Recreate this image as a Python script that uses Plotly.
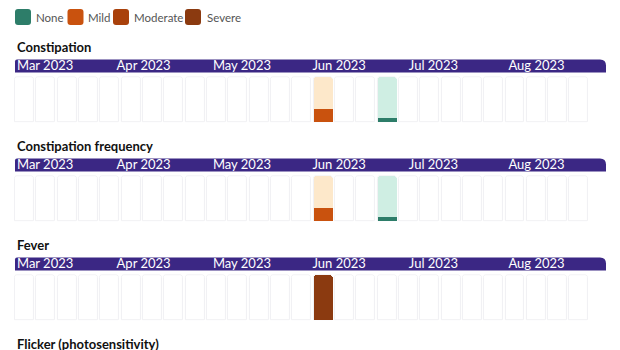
import plotly.graph_objects as go
import pandas as pd

W, H = 620, 350

# ---------------- data ----------------
severity_names = ["None", "Mild", "Moderate", "Severe"]
severity_colors = ["#2d7d69", "#c9520e", "#a9410b", "#8b3a10"]
severity_tints = ["#cfeee3", "#fde8ca", "#f7d6c2", "#f2cfbf"]
severity_heights = [0.09, 0.28, 0.62, 1.0]

week_start = "2023-02-27"
n_weeks = 27

month_ticks = ["2023-03-01", "2023-04-01", "2023-05-01", "2023-06-01", "2023-07-01", "2023-08-01"]
month_labels = ["Mar 2023", "Apr 2023", "May 2023", "Jun 2023", "Jul 2023", "Aug 2023"]
header_range = ["2023-03-01", "2023-09-01"]

symptoms = ["Constipation", "Constipation frequency", "Fever", "Flicker (photosensitivity)"]

constipation_weeks = ["2023-06-05", "2023-06-26"]
constipation_levels = ["Mild", "None"]

constipation_freq_weeks = ["2023-06-05", "2023-06-26"]
constipation_freq_levels = ["Mild", "None"]

fever_weeks = ["2023-06-05"]
fever_levels = ["Severe"]

flicker_weeks = []
flicker_levels = []

panels = [
    (symptoms[0], constipation_weeks, constipation_levels),
    (symptoms[1], constipation_freq_weeks, constipation_freq_levels),
    (symptoms[2], fever_weeks, fever_levels),
    (symptoms[3], flicker_weeks, flicker_levels),
]

# ---------------- style ----------------
FONT = "Lato"
HEADER_COLOR = "#3b2784"
CELL_LINE = "#f0f0f3"
PANEL_STEP = 99


def py(y):
    return 1 - y / H


def pxp(x):
    return x / W


def rounded_path(x0, y0, x1, y1, r_tl, r_tr, r_br, r_bl):
    """pixel rect (y down) -> paper path with rounded corners"""
    def P(x, y):
        return f"{pxp(x)},{py(y)}"
    return (f"M {P(x0, y0 + r_tl)} Q {P(x0, y0)} {P(x0 + r_tl, y0)} "
            f"L {P(x1 - r_tr, y0)} Q {P(x1, y0)} {P(x1, y0 + r_tr)} "
            f"L {P(x1, y1 - r_br)} Q {P(x1, y1)} {P(x1 - r_br, y1)} "
            f"L {P(x0 + r_bl, y1)} Q {P(x0, y1)} {P(x0, y1 - r_bl)} Z")


fig = go.Figure()
weeks = pd.date_range(week_start, periods=n_weeks, freq="7D")
mids = weeks + pd.Timedelta(hours=84)
slot_ms = 7 * 24 * 3600 * 1000
bar_w = slot_ms * 0.89
cell_range = [weeks[0], weeks[0] + pd.Timedelta(days=7 * n_weeks)]

layout_axes = {}
shapes = []
annotations = []

for k, (name, wks, lvls) in enumerate(panels):
    off = PANEL_STEP * k
    # title
    annotations.append(dict(
        x=pxp(15), y=py(46.5 + off), xref="paper", yref="paper",
        xanchor="left", yanchor="middle", showarrow=False,
        text=f"<b>{name}</b>", font=dict(family=FONT, size=13, color="#111111")))
    if k >= 3:
        continue
    ci, hi = 2 * k + 1, 2 * k + 2
    xa = "x" if ci == 1 else f"x{ci}"
    ya = "y" if ci == 1 else f"y{ci}"

    # empty week cells
    fig.add_trace(go.Bar(
        x=mids, y=[1] * n_weeks, width=bar_w, xaxis=xa, yaxis=ya,
        marker=dict(color="white", line=dict(color=CELL_LINE, width=1), cornerradius=3),
        showlegend=False, hoverinfo="skip"))
    if wks:
        idx = [severity_names.index(l) for l in lvls]
        xs = [pd.Timestamp(w) + pd.Timedelta(hours=84) for w in wks]
        fig.add_trace(go.Bar(
            x=xs, y=[1] * len(xs), width=bar_w, xaxis=xa, yaxis=ya,
            marker=dict(color=[severity_tints[i] for i in idx], line=dict(width=0), cornerradius=3),
            showlegend=False, hoverinfo="skip"))
        fig.add_trace(go.Bar(
            x=xs, y=[severity_heights[i] for i in idx], width=bar_w, xaxis=xa, yaxis=ya,
            marker=dict(color=[severity_colors[i] for i in idx], line=dict(width=0), cornerradius=3),
            customdata=lvls, hovertemplate="%{customdata}<extra></extra>",
            showlegend=False))

    xkey = "xaxis" if ci == 1 else f"xaxis{ci}"
    ykey = "yaxis" if ci == 1 else f"yaxis{ci}"
    layout_axes[xkey] = dict(type="date", range=cell_range, domain=[pxp(13.9), pxp(589.5)],
                             anchor=ya, visible=False, fixedrange=True)
    layout_axes[ykey] = dict(range=[-0.015, 1.015], domain=[py(122.8 + off), py(76.2 + off)],
                             anchor=xa, visible=False, fixedrange=True)

    # header band
    shapes.append(dict(type="path", xref="paper", yref="paper",
                       path=rounded_path(15, 59.5 + off, 606, 72.5 + off, 2, 6, 0, 0),
                       fillcolor=HEADER_COLOR, line=dict(width=0), layer="below"))

    # header month axis (invisible anchor trace so the subplot exists)
    fig.add_trace(go.Scatter(
        x=month_ticks, y=[0.5] * len(month_ticks), xaxis=f"x{hi}", yaxis=f"y{hi}",
        mode="markers", marker=dict(opacity=0), showlegend=False, hoverinfo="skip"))
    layout_axes[f"xaxis{hi}"] = dict(
        type="date", range=header_range, domain=[pxp(15), pxp(606)], anchor=f"y{hi}",
        tickvals=month_ticks, ticktext=month_labels, ticklabelposition="inside right",
        ticklabelshift=2,
        tickfont=dict(family=FONT, size=13, color="white"), showgrid=False, zeroline=False,
        showline=False, ticks="", fixedrange=True)
    layout_axes[f"yaxis{hi}"] = dict(domain=[py(79 + off), py(65 + off)], range=[0, 1],
                                     anchor=f"x{hi}", visible=False, fixedrange=True)

# legend (manual)
leg_sq_x = [15, 67.5, 113, 185]
leg_tx_x = [34, 86, 132, 205]
for i, nm in enumerate(severity_names):
    x0 = leg_sq_x[i]
    shapes.append(dict(type="path", xref="paper", yref="paper",
                       path=rounded_path(x0, 9, x0 + 16, 25, 3, 3, 3, 3),
                       fillcolor=severity_colors[i], line=dict(width=0), layer="above"))
    annotations.append(dict(x=pxp(leg_tx_x[i]), y=py(17), xref="paper", yref="paper",
                            xanchor="left", yanchor="middle", showarrow=False, text=nm,
                            font=dict(family=FONT, size=11.5, color="#555555")))

fig.update_layout(
    width=W, height=H, margin=dict(l=0, r=0, t=0, b=0),
    paper_bgcolor="white", plot_bgcolor="rgba(0,0,0,0)",
    barmode="overlay", bargap=0, showlegend=False,
    shapes=shapes, annotations=annotations, **layout_axes)

fig.write_html("out.html")
